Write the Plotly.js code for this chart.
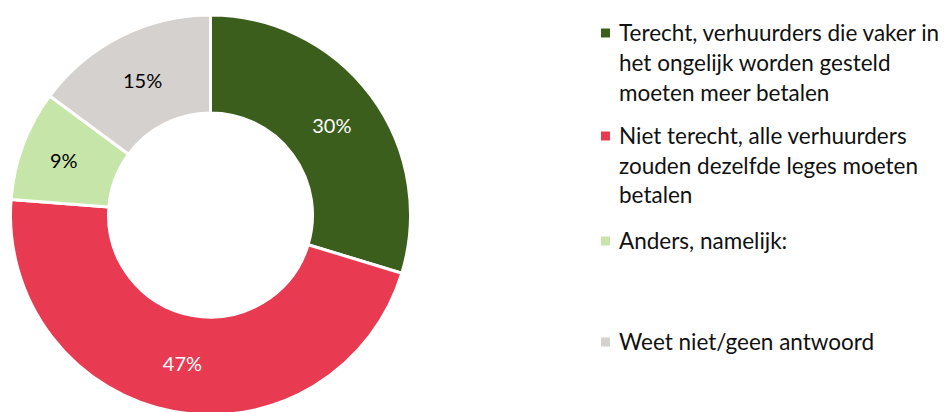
<!DOCTYPE html>
<html>
<head>
<meta charset="utf-8">
<script src="https://cdn.plot.ly/plotly-3.0.1.min.js"></script>
<style>
html,body{margin:0;padding:0;overflow:hidden;background:#fff;}
#chart{width:944px;height:430px;}
</style>
</head>
<body>
<div id="chart"></div>
<script>
// Data
const categories = [
  "Terecht, verhuurders die vaker in<br>het ongelijk worden gesteld<br>moeten meer betalen",
  "Niet terecht, alle verhuurders<br>zouden dezelfde leges moeten<br>betalen",
  "Anders, namelijk:",
  "Weet niet/geen antwoord"
];
const values = [30, 47, 9, 15];
const colors = ["#3B5E1C", "#E83A51", "#C6E6A9", "#D5D1CE"];
const labelColors = ["#FFFFFF", "#FFFFFF", "#000000", "#000000"];

const W = 944, H = 430;
const FONT = "Lato, 'Noto Sans', sans-serif";

const trace = {
  type: "pie",
  labels: categories,
  values: values,
  text: values.map(v => v + "%"),
  textinfo: "text",
  textposition: "inside",
  insidetextorientation: "horizontal",
  insidetextfont: {family: FONT, size: 20, color: labelColors},
  hole: 0.51,
  sort: false,
  direction: "clockwise",
  rotation: 0,
  marker: {colors: colors, line: {color: "#FFFFFF", width: 3}},
  domain: {x: [10.5 / W, 410.5 / W], y: [0, 1]},
  showlegend: false,
  hoverinfo: "label+percent"
};

// Legend (drawn manually to match the reference spacing)
const entryTop = [32, 135, 240, 341];   // vertical centre of first line (px)
const lineGap = 30;
const annotations = [];
const shapes = [];
categories.forEach((lab, i) => {
  const lines = lab.split("<br>");
  lines.forEach((ln, j) => {
    const ypx = entryTop[i] + j * lineGap;
    annotations.push({
      xref: "paper", yref: "paper",
      x: 617 / W, y: 1 - ypx / H,
      xanchor: "left", yanchor: "middle",
      text: ln, showarrow: false,
      font: {family: FONT, size: 22.5, color: "#111111"}
    });
  });
  const cy = entryTop[i] + 1;
  shapes.push({
    type: "rect", xref: "paper", yref: "paper",
    x0: 601 / W, x1: 610 / W,
    y0: 1 - (cy + 4.5) / H, y1: 1 - (cy - 4.5) / H,
    fillcolor: colors[i], line: {width: 0}
  });
});

const layout = {
  width: W, height: H,
  margin: {l: 0, r: 0, t: 0, b: 0},
  paper_bgcolor: "#FFFFFF",
  showlegend: false,
  font: {family: FONT},
  annotations: annotations,
  shapes: shapes
};

Plotly.newPlot("chart", [trace], layout, {displayModeBar: false, staticPlot: true});
</script>
</body>
</html>
